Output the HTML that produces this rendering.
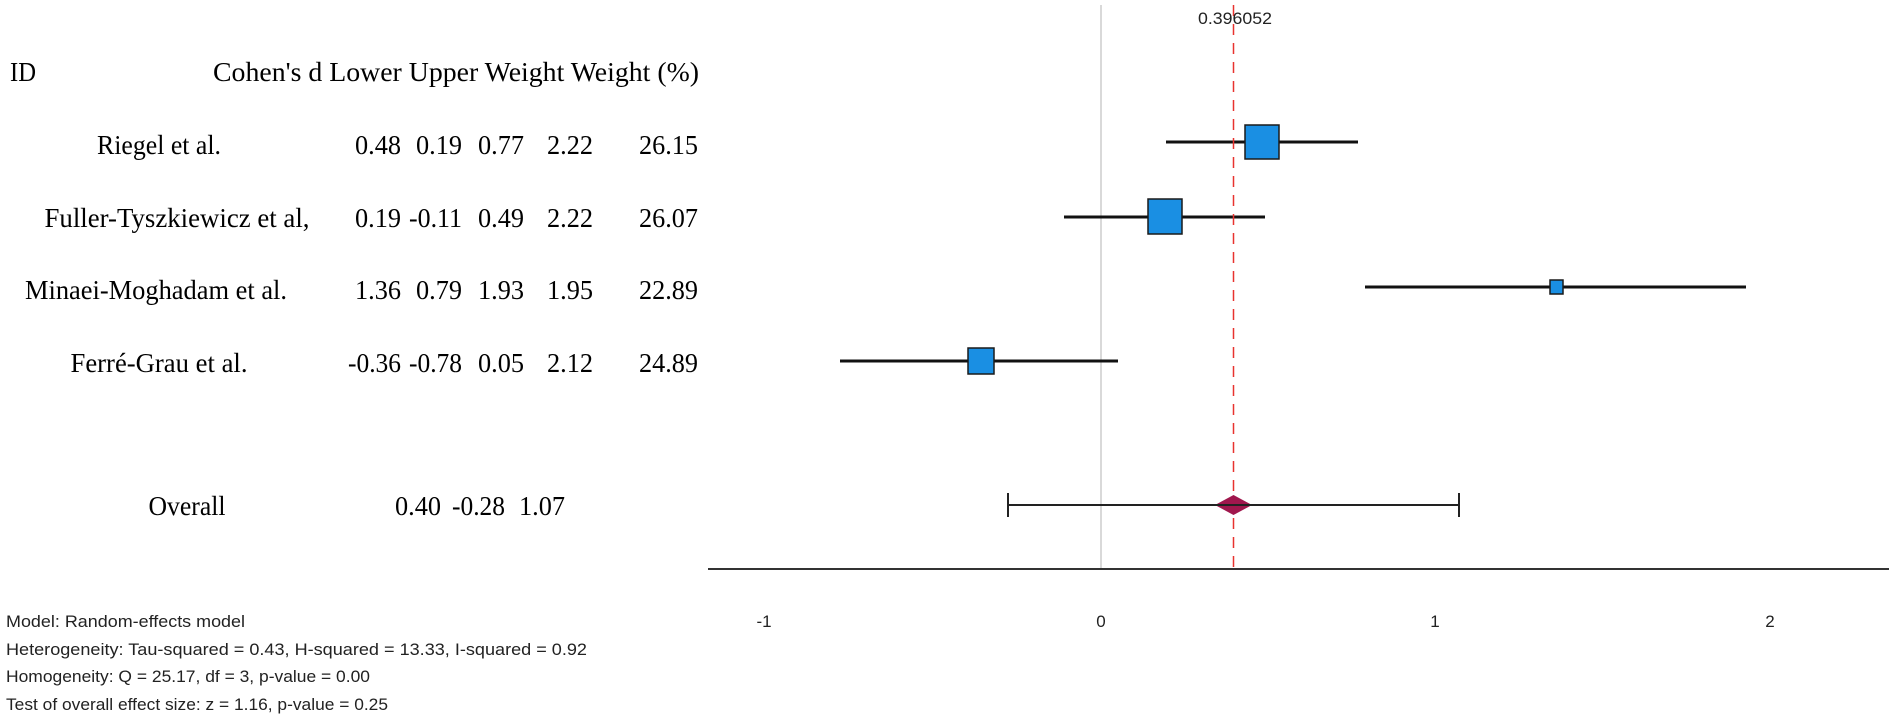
<!DOCTYPE html>
<html><head><meta charset="utf-8"><style>
html,body{margin:0;padding:0;background:#fff;}
svg{display:block;}
.t{font-family:"Liberation Serif",serif;font-size:27px;fill:#000;}
.s{font-family:"Liberation Sans",sans-serif;font-size:17px;fill:#222;}
</style></head><body>
<svg width="1893" height="718" viewBox="0 0 1893 718" xmlns="http://www.w3.org/2000/svg">
<text class="t" x="10" y="81" textLength="26" lengthAdjust="spacingAndGlyphs">ID</text>
<text class="t" x="213" y="81" textLength="486" lengthAdjust="spacingAndGlyphs">Cohen's d Lower Upper Weight Weight (%)</text>
<g class="t" lengthAdjust="spacingAndGlyphs">
<text x="159" y="154" text-anchor="middle" textLength="124" lengthAdjust="spacingAndGlyphs">Riegel et al.</text>
<text x="401" y="154" text-anchor="end" textLength="46" lengthAdjust="spacingAndGlyphs">0.48</text><text x="462" y="154" text-anchor="end" textLength="46" lengthAdjust="spacingAndGlyphs">0.19</text><text x="524" y="154" text-anchor="end" textLength="46" lengthAdjust="spacingAndGlyphs">0.77</text><text x="593" y="154" text-anchor="end" textLength="46" lengthAdjust="spacingAndGlyphs">2.22</text><text x="698" y="154" text-anchor="end" textLength="59" lengthAdjust="spacingAndGlyphs">26.15</text>

<text x="177" y="227" text-anchor="middle" textLength="265" lengthAdjust="spacingAndGlyphs">Fuller-Tyszkiewicz et al,</text>
<text x="401" y="227" text-anchor="end" textLength="46" lengthAdjust="spacingAndGlyphs">0.19</text><text x="462" y="227" text-anchor="end" textLength="53" lengthAdjust="spacingAndGlyphs">-0.11</text><text x="524" y="227" text-anchor="end" textLength="46" lengthAdjust="spacingAndGlyphs">0.49</text><text x="593" y="227" text-anchor="end" textLength="46" lengthAdjust="spacingAndGlyphs">2.22</text><text x="698" y="227" text-anchor="end" textLength="59" lengthAdjust="spacingAndGlyphs">26.07</text>

<text x="156" y="299" text-anchor="middle" textLength="262" lengthAdjust="spacingAndGlyphs">Minaei-Moghadam et al.</text>
<text x="401" y="299" text-anchor="end" textLength="46" lengthAdjust="spacingAndGlyphs">1.36</text><text x="462" y="299" text-anchor="end" textLength="46" lengthAdjust="spacingAndGlyphs">0.79</text><text x="524" y="299" text-anchor="end" textLength="46" lengthAdjust="spacingAndGlyphs">1.93</text><text x="593" y="299" text-anchor="end" textLength="46" lengthAdjust="spacingAndGlyphs">1.95</text><text x="698" y="299" text-anchor="end" textLength="59" lengthAdjust="spacingAndGlyphs">22.89</text>

<text x="159" y="372" text-anchor="middle" textLength="177" lengthAdjust="spacingAndGlyphs">Ferré-Grau et al.</text>
<text x="401" y="372" text-anchor="end" textLength="53" lengthAdjust="spacingAndGlyphs">-0.36</text><text x="462" y="372" text-anchor="end" textLength="53" lengthAdjust="spacingAndGlyphs">-0.78</text><text x="524" y="372" text-anchor="end" textLength="46" lengthAdjust="spacingAndGlyphs">0.05</text><text x="593" y="372" text-anchor="end" textLength="46" lengthAdjust="spacingAndGlyphs">2.12</text><text x="698" y="372" text-anchor="end" textLength="59" lengthAdjust="spacingAndGlyphs">24.89</text>

<text x="187" y="515" text-anchor="middle" textLength="77" lengthAdjust="spacingAndGlyphs">Overall</text>
<text x="441" y="515" text-anchor="end" textLength="46" lengthAdjust="spacingAndGlyphs">0.40</text><text x="505" y="515" text-anchor="end" textLength="53" lengthAdjust="spacingAndGlyphs">-0.28</text><text x="565" y="515" text-anchor="end" textLength="46" lengthAdjust="spacingAndGlyphs">1.07</text>
</g>

<line x1="1101" y1="5" x2="1101" y2="569" stroke="#d9d9d9" stroke-width="2"/>
<line x1="708" y1="569" x2="1889" y2="569" stroke="#333" stroke-width="2"/>
<g class="s" font-size="15" text-anchor="middle">
<text x="764" y="627">-1</text><text x="1101" y="627">0</text><text x="1435" y="627">1</text><text x="1770" y="627">2</text>
</g>

<g stroke="#111" stroke-width="3">
<line x1="1166" y1="142" x2="1358" y2="142"/>
<line x1="1064" y1="217" x2="1265" y2="217"/>
<line x1="1365" y1="287" x2="1746" y2="287"/>
<line x1="840" y1="361" x2="1118" y2="361"/>
</g>
<g fill="#1a8fe3" stroke="#1a1a1a" stroke-width="1.5">
<rect x="1245" y="125" width="34" height="34"/>
<rect x="1148" y="199" width="34" height="35"/>
<rect x="1550" y="280" width="13" height="14"/>
<rect x="968" y="348" width="26" height="26"/>
</g>
<g stroke="#222" stroke-width="2">
<line x1="1008" y1="505" x2="1459" y2="505"/>
<line x1="1008" y1="493" x2="1008" y2="517"/>
<line x1="1459" y1="493" x2="1459" y2="517"/>
</g>
<line x1="1233.5" y1="5" x2="1233.5" y2="569" stroke="#e8322f" stroke-width="1.5" stroke-dasharray="11,8"/>
<polygon points="1215,505 1233.5,495 1252,505 1233.5,515" fill="#a0174d"/>
<line x1="1215" y1="505" x2="1252" y2="505" stroke="#222" stroke-width="2"/>
<text class="s" x="1235" y="24" text-anchor="middle" textLength="74" lengthAdjust="spacingAndGlyphs">0.396052</text>

<text class="s" x="6" y="627" textLength="239" lengthAdjust="spacingAndGlyphs">Model: Random-effects model</text>
<text class="s" x="6" y="655" textLength="581" lengthAdjust="spacingAndGlyphs">Heterogeneity: Tau-squared = 0.43, H-squared = 13.33, I-squared = 0.92</text>
<text class="s" x="6" y="682" textLength="364" lengthAdjust="spacingAndGlyphs">Homogeneity: Q = 25.17, df = 3, p-value = 0.00</text>
<text class="s" x="6" y="710" textLength="382" lengthAdjust="spacingAndGlyphs">Test of overall effect size: z = 1.16, p-value = 0.25</text>
</svg>
</body></html>
